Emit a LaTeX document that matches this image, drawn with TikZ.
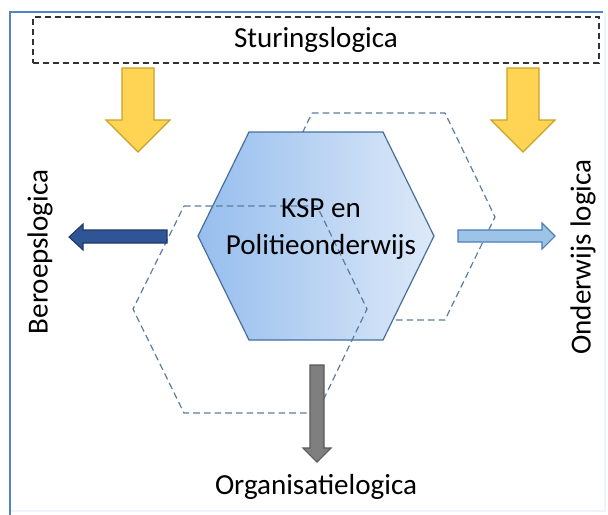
\documentclass[tikz,border=0pt]{standalone}
\usepackage{fontspec}
\setmainfont{Carlito}
\begin{document}
\begin{tikzpicture}[x=0.75pt,y=-0.75pt,
  lbl/.style={font=\fontsize{21.8}{27.8}\selectfont, text=black, inner sep=0pt},
  yarrow/.style={fill={rgb,255:red,255;green,212;blue,84}, draw={rgb,255:red,201;green,162;blue,39}, line width=0.9pt, line join=miter},
  dashhex/.style={draw={rgb,255:red,90;green,125;blue,158}, line width=0.9pt, dash pattern=on 5pt off 3pt},
]
\useasboundingbox (0,0) rectangle (608,515);
% frame
\draw[draw={rgb,255:red,238;green,244;blue,251}, line width=1pt] (605,12) -- (605,511) -- (10,511);
\draw[draw={rgb,255:red,84;green,130;blue,195}, line width=1.6pt] (10,515) -- (10,12) -- (603,12);

% top dashed box
\node[lbl, draw={rgb,255:red,50;green,50;blue,50}, line width=1.1pt, dash pattern=on 4.5pt off 3pt,
      minimum width=424.5pt, minimum height=34.5pt] (sturing) at (316,40) {Sturingslogica};

% yellow arrows
\draw[yarrow] (122,68) -- (154,68) -- (154,120) -- (170,120) -- (138,152) -- (106,120) -- (122,120) -- cycle;
\draw[yarrow] (507,68) -- (539,68) -- (539,120) -- (555,120) -- (523,152) -- (491,120) -- (507,120) -- cycle;

% upper-right dashed hexagon (behind)
\draw[dashhex] (312,113) -- (445,113) -- (495,217) -- (445,320) -- (312,320) -- (262,217) -- cycle;

% main hexagon
\draw[left color={rgb,255:red,150;green,190;blue,238}, right color={rgb,255:red,221;green,233;blue,248},
      draw={rgb,255:red,70;green,110;blue,155}, line width=0.9pt]
  (249,132) -- (383,132) -- (434,236) -- (383,340) -- (249,340) -- (198,236) -- cycle;

% lower-left dashed hexagon (in front)
\draw[dashhex] (184,206) -- (317,206) -- (367,309) -- (317,413) -- (184,413) -- (133,309) -- cycle;

\node[lbl, align=center] (ksp) at (321,229) {KSP en\\Politieonderwijs};

% side arrows
\draw[fill={rgb,255:red,47;green,85;blue,151}, draw={rgb,255:red,31;green,56;blue,100}, line width=0.8pt]
  (167,230) -- (83,230) -- (83,224) -- (69,237) -- (83,250) -- (83,243) -- (167,243) -- cycle;
\draw[fill={rgb,255:red,157;green,195;blue,230}, draw={rgb,255:red,74;green,126;blue,187}, line width=0.8pt]
  (458,230) -- (542,230) -- (542,223) -- (555,236) -- (542,249) -- (542,242) -- (458,242) -- cycle;
\draw[fill={rgb,255:red,127;green,127;blue,127}, draw={rgb,255:red,89;green,89;blue,89}, line width=0.8pt]
  (310,365) -- (324,365) -- (324,448) -- (331,448) -- (317,462) -- (303,448) -- (310,448) -- cycle;

% labels
\node[lbl, rotate=90] (beroep) at (40,252) {Beroepslogica};
\node[lbl, rotate=90] (onderwijs) at (583,257) {Onderwijs logica};
\node[lbl] (organisatie) at (316,487) {Organisatielogica};
\end{tikzpicture}
\end{document}
